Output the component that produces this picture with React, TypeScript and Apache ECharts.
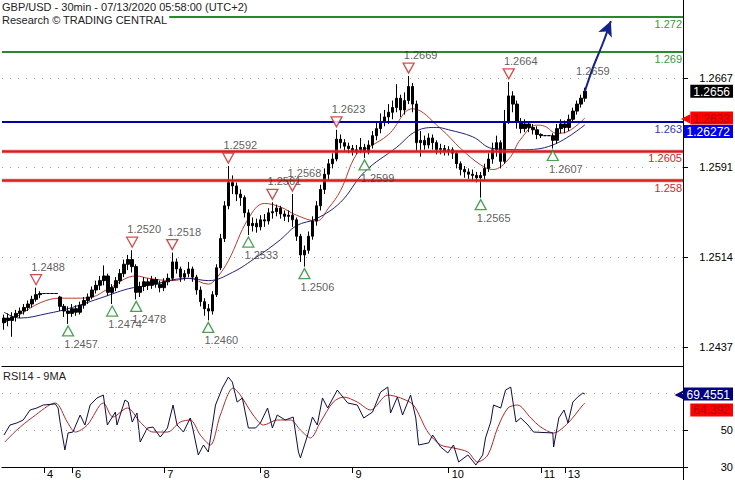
import React, { useEffect, useRef } from "react";
import * as echarts from "echarts";

// ---------- DATA ----------
// 30-min bars: [open, close, low, high]
const bars: number[][] = [
  [1.2458, 1.2462, 1.2452, 1.2465], [1.2462, 1.246, 1.2455, 1.2466], [1.246, 1.2463, 1.2446, 1.2467],
  [1.2463, 1.2466, 1.2459, 1.2469], [1.2466, 1.2468, 1.2462, 1.2471], [1.2468, 1.2471, 1.2465, 1.2474],
  [1.2471, 1.2474, 1.2468, 1.2477], [1.2474, 1.2478, 1.2471, 1.2481], [1.2478, 1.2482, 1.2476, 1.2488],
  [1.2482, 1.2483, 1.2479, 1.2485], [1.2483, 1.2483, 1.2483, 1.2483], [1.2483, 1.2483, 1.2483, 1.2483],
  [1.2483, 1.2483, 1.2483, 1.2483], [1.2483, 1.2483, 1.2483, 1.2483], [1.248, 1.2472, 1.2468, 1.2481],
  [1.2472, 1.2468, 1.2463, 1.2474], [1.2468, 1.2466, 1.2457, 1.2472], [1.2466, 1.247, 1.2463, 1.2474],
  [1.247, 1.2467, 1.2464, 1.2473], [1.2467, 1.2473, 1.2465, 1.2476], [1.2473, 1.2477, 1.247, 1.248],
  [1.2477, 1.248, 1.2474, 1.2483], [1.248, 1.2486, 1.2478, 1.2489], [1.2486, 1.249, 1.2483, 1.2494],
  [1.249, 1.2494, 1.2486, 1.2498], [1.2494, 1.2498, 1.249, 1.2507], [1.2498, 1.2484, 1.2481, 1.25],
  [1.2484, 1.2488, 1.2474, 1.2491], [1.2488, 1.2494, 1.2485, 1.2497], [1.2494, 1.25, 1.2491, 1.2504],
  [1.25, 1.2508, 1.2497, 1.2512], [1.2508, 1.2512, 1.2503, 1.2516], [1.2512, 1.2506, 1.2501, 1.252],
  [1.2506, 1.2484, 1.2478, 1.2508], [1.2484, 1.2489, 1.248, 1.2493], [1.2489, 1.2493, 1.2485, 1.2497],
  [1.2493, 1.249, 1.2486, 1.2496], [1.249, 1.2495, 1.2487, 1.2498], [1.2495, 1.2491, 1.2488, 1.2497],
  [1.2491, 1.2488, 1.2484, 1.2494], [1.2488, 1.2493, 1.2485, 1.2496], [1.2493, 1.2496, 1.249, 1.25],
  [1.2496, 1.251, 1.2494, 1.2518], [1.251, 1.2504, 1.25, 1.2513], [1.2504, 1.2497, 1.2493, 1.2506],
  [1.2497, 1.25, 1.2494, 1.2503], [1.25, 1.2504, 1.2497, 1.251], [1.2504, 1.2497, 1.2493, 1.2506],
  [1.2497, 1.2486, 1.2482, 1.2499], [1.2486, 1.2476, 1.2472, 1.2489], [1.2476, 1.247, 1.2464, 1.2479],
  [1.247, 1.2468, 1.246, 1.2474], [1.2468, 1.2482, 1.2465, 1.2485], [1.2482, 1.2505, 1.248, 1.2508],
  [1.2505, 1.253, 1.2503, 1.2534], [1.253, 1.2558, 1.2527, 1.2562], [1.2558, 1.2578, 1.2555, 1.2592],
  [1.2578, 1.2575, 1.2568, 1.2584], [1.2575, 1.2568, 1.2562, 1.2578], [1.2568, 1.2565, 1.2558, 1.2572],
  [1.2565, 1.2552, 1.2548, 1.2567], [1.2552, 1.2541, 1.2533, 1.2555], [1.2541, 1.2543, 1.2536, 1.2548],
  [1.2543, 1.254, 1.2535, 1.2547], [1.254, 1.2546, 1.2537, 1.255], [1.2546, 1.2545, 1.254, 1.2551],
  [1.2545, 1.2552, 1.2542, 1.2556], [1.2552, 1.2553, 1.2547, 1.2561], [1.2553, 1.2556, 1.2549, 1.2559],
  [1.2556, 1.2551, 1.2547, 1.2558], [1.2551, 1.2549, 1.2545, 1.2554], [1.2549, 1.255, 1.2544, 1.2554],
  [1.255, 1.2546, 1.254, 1.2568], [1.2546, 1.2532, 1.2528, 1.2548], [1.2532, 1.2516, 1.251, 1.2534],
  [1.2516, 1.252, 1.2506, 1.2524], [1.252, 1.2532, 1.2517, 1.2536], [1.2532, 1.2545, 1.2529, 1.2549],
  [1.2545, 1.2558, 1.2541, 1.2562], [1.2558, 1.2572, 1.2554, 1.2576], [1.2572, 1.2585, 1.2568, 1.259],
  [1.2585, 1.2594, 1.258, 1.2598], [1.2594, 1.2598, 1.259, 1.2603], [1.2598, 1.2615, 1.2596, 1.2623],
  [1.2615, 1.2612, 1.2607, 1.2619], [1.2612, 1.2609, 1.2605, 1.2615], [1.2609, 1.2607, 1.2603, 1.2612],
  [1.2607, 1.2605, 1.2601, 1.261], [1.2605, 1.2606, 1.2602, 1.261], [1.2606, 1.2608, 1.2603, 1.2616],
  [1.2608, 1.2604, 1.2599, 1.2611], [1.2604, 1.261, 1.2602, 1.2614], [1.261, 1.2618, 1.2607, 1.2622],
  [1.2618, 1.2624, 1.2614, 1.263], [1.2624, 1.263, 1.262, 1.2637], [1.263, 1.2634, 1.2626, 1.264],
  [1.2634, 1.2638, 1.2628, 1.2645], [1.2638, 1.2642, 1.2632, 1.2648], [1.2642, 1.265, 1.2638, 1.2662],
  [1.265, 1.264, 1.2634, 1.2653], [1.264, 1.2648, 1.2636, 1.2655], [1.2648, 1.266, 1.2645, 1.2669],
  [1.266, 1.2645, 1.2638, 1.2663], [1.2645, 1.2612, 1.2605, 1.2648], [1.2612, 1.2614, 1.26, 1.2622],
  [1.2614, 1.261, 1.2606, 1.2618], [1.261, 1.2616, 1.2607, 1.262], [1.2616, 1.2612, 1.2606, 1.2619],
  [1.2612, 1.2606, 1.2602, 1.2614], [1.2606, 1.2607, 1.2602, 1.2611], [1.2607, 1.2605, 1.2601, 1.261],
  [1.2605, 1.2606, 1.2601, 1.2609], [1.2606, 1.2603, 1.2598, 1.2608], [1.2603, 1.2594, 1.259, 1.2605],
  [1.2594, 1.2589, 1.2584, 1.2596], [1.2589, 1.2587, 1.2582, 1.2592], [1.2587, 1.2585, 1.2581, 1.259],
  [1.2585, 1.2584, 1.258, 1.2589], [1.2584, 1.2582, 1.2578, 1.2587], [1.2582, 1.2584, 1.2565, 1.2587],
  [1.2584, 1.259, 1.258, 1.2594], [1.259, 1.2598, 1.2587, 1.2603], [1.2598, 1.2606, 1.2594, 1.2612],
  [1.2606, 1.2612, 1.26, 1.2618], [1.2612, 1.2596, 1.259, 1.2614], [1.2596, 1.263, 1.2594, 1.264],
  [1.263, 1.2652, 1.2628, 1.2664], [1.2652, 1.2645, 1.2638, 1.2656], [1.2645, 1.263, 1.2624, 1.2648],
  [1.263, 1.2624, 1.262, 1.2633], [1.2624, 1.2628, 1.2621, 1.2632], [1.2628, 1.2625, 1.2621, 1.263],
  [1.2625, 1.2623, 1.2619, 1.2628], [1.2623, 1.2619, 1.2615, 1.2626], [1.2619, 1.2618, 1.2616, 1.262],
  [1.2618, 1.2618, 1.2618, 1.2618], [1.2618, 1.2618, 1.2618, 1.2618], [1.2618, 1.2614, 1.2607, 1.262],
  [1.2614, 1.2624, 1.2611, 1.2628], [1.2624, 1.2628, 1.262, 1.2632], [1.2628, 1.2625, 1.262, 1.2631],
  [1.2625, 1.2632, 1.2622, 1.2636], [1.2632, 1.2639, 1.2629, 1.2642], [1.2639, 1.2645, 1.2636, 1.2648],
  [1.2645, 1.265, 1.2642, 1.2653], [1.265, 1.2656, 1.2647, 1.2659],
];

// swing points [bar index, price]
const swingHighs: number[][] = [
  [8, 1.2488], [32, 1.252], [42, 1.2518], [56, 1.2592], [67, 1.2561], [72, 1.2568],
  [83, 1.2623], [101, 1.2669], [126, 1.2664],
];
const swingLows: number[][] = [
  [16, 1.2457], [27, 1.2474], [33, 1.2478], [51, 1.246], [61, 1.2533], [75, 1.2506],
  [90, 1.2599], [119, 1.2565], [137, 1.2607],
];
const lastHigh: number[] = [145, 1.2659];

// support / resistance levels
const resistLevels = [1.272, 1.269];
const pivotLevels = [1.263];
const supportLevels = [1.2605, 1.258];

// axis ticks
const priceTicks = [1.2437, 1.2514, 1.2591, 1.2667];
const rsiTicks = [30, 50];
const rsiGuides = [50, 70];
const dayLabels = ["4", "6", "7", "8", "9", "10", "11", "13"];
const dayIndex = [10, 17, 40, 64, 87, 111, 134, 140];

// moving averages [bar index, price]
const fastMA: number[][] = [
  [0, 1.2458], [4, 1.2465], [9, 1.2475], [14, 1.2479], [18, 1.2479], [22, 1.248], [26, 1.2487],
  [33, 1.2498], [36, 1.2496], [42, 1.2494], [46, 1.2496], [51, 1.2491], [53, 1.2496], [56, 1.2511],
  [61, 1.2547], [65, 1.256], [69, 1.2557], [73, 1.255], [78, 1.2545], [81, 1.2556], [84, 1.2571],
  [88, 1.2602], [91, 1.2608], [96, 1.2619], [102, 1.2641], [109, 1.2624], [114, 1.2607],
  [119, 1.2593], [122, 1.2589], [126, 1.2598], [129, 1.2615], [133, 1.2627], [135, 1.2626],
  [138, 1.262], [141, 1.2622], [145, 1.2633],
];
const slowMA: number[][] = [
  [0, 1.2467], [4, 1.2462], [11, 1.2466], [16, 1.247], [24, 1.2479], [31, 1.2487], [36, 1.249],
  [46, 1.2496], [51, 1.2494], [57, 1.2501], [63, 1.2514], [69, 1.2529], [73, 1.2541], [78, 1.2547],
  [84, 1.2561], [90, 1.2587], [98, 1.2608], [103, 1.2622], [108, 1.2625], [111, 1.2623],
  [117, 1.2617], [122, 1.2607], [129, 1.2606], [137, 1.261], [145, 1.26272],
];
const forecast: number[][] = [[145, 1.2656], [147, 1.2676], [149.5, 1.2697], [151.5, 1.2716]];

// RSI14 and its 9MA [bar index, value]
const rsi: number[][] = [
  [0, 47.3], [1.5, 52.7], [3.2, 53.8], [4.8, 55.4], [6.5, 60.8], [8.2, 61.9], [9.8, 63.5], [12.8, 64.1],
  [13.5, 61.9], [14, 54.3], [15.2, 39.2], [16, 48.4], [17.2, 48.9], [19, 58.1], [20.2, 52.7], [21.5, 63.5],
  [23.2, 67.3], [24.8, 68.9], [25.8, 52.7], [27.8, 59.7], [28.2, 52.7], [30.2, 66.2], [31, 65.1], [32, 54.3],
  [33.2, 59.2], [34, 43.5], [35.8, 51.1], [37.2, 51.6], [39, 46.2], [40.8, 51.1], [42.2, 63.5], [43.2, 52.7],
  [44.8, 48.9], [46.5, 56.5], [47.2, 50], [48.5, 36.5], [49.8, 41.9], [51, 38.1], [52.8, 63.5], [54.5, 72.7],
  [56, 78.6], [57, 75.9], [58.2, 65.1], [59.5, 67.3], [61, 51.1], [62.8, 51.1], [64, 53.8], [65.8, 61.9],
  [67, 51.1], [68.2, 58.1], [70.2, 55.4], [72.2, 57], [73.5, 38.1], [74, 34.9], [75.8, 47.3], [77, 57],
  [78.2, 52.7], [79.5, 67.3], [80.8, 61.9], [83.2, 71.6], [85.8, 64.6], [88.2, 63.5], [89.8, 56.5],
  [92, 59.7], [94, 70.5], [95.8, 73.2], [96.5, 59.2], [98.2, 67.8], [99.5, 58.1], [101.5, 68.9],
  [102.8, 56.5], [103.5, 41.9], [106, 43], [107, 47.3], [109, 40.8], [110.8, 37.6], [112.2, 41.9],
  [113.5, 32.7], [115.8, 36.5], [117.8, 31.1], [119.5, 36.5], [120.2, 45.7], [121.5, 54.3], [122.2, 63.5],
  [124, 61.9], [125.2, 71.6], [126.5, 73.2], [127.8, 54.3], [129, 56.5], [130.8, 52.7], [132.2, 48.9],
  [137, 48.4], [137.2, 40.8], [138.5, 56.5], [139.8, 60.8], [140.8, 53.8], [142, 65.1], [143.2, 67.8],
  [144.5, 70], [145, 69.4551],
];
const rsiMA: number[][] = [
  [0.2, 43.5], [3.2, 50], [7.2, 57], [12.8, 64.6], [15.8, 54.3], [17.8, 48.9], [20.8, 52.7], [24.8, 64.6],
  [27.2, 57], [30.8, 61.9], [34, 54.3], [37.2, 48.9], [40.8, 48.9], [44, 54.3], [46.5, 55.4], [49, 47.3],
  [51.5, 41.9], [54, 58.1], [57.2, 72.7], [59, 68.9], [62.2, 58.1], [64.8, 52.7], [68.2, 55.4],
  [71.5, 55.4], [74, 50], [76.5, 45.7], [79, 54.3], [82.2, 65.1], [84.8, 67.8], [88.2, 65.1], [91.5, 60.8],
  [95.8, 68.9], [99, 67.3], [102.2, 63.5], [105.8, 48.9], [109, 41.9], [112.2, 40.3], [115.8, 38.1],
  [118.2, 32.7], [120.8, 36.5], [123.2, 51.1], [125.8, 61.9], [128.2, 63.5], [131.5, 56.5], [134, 51.6],
  [137.2, 48.4], [140.8, 53.8], [144.5, 63.5], [145, 64.392],
];

const lastClose = 1.2656;
const fastLast = 1.2633;
const slowLast = 1.26272;
const rsiLast = 69.4551;
const rsiMALast = 64.392;

const SLOTS = 170;

// ---------- CHART ----------
const FONT = "'Liberation Sans', Arial, sans-serif";
const P_MIN = 1.2421;
const P_MAX = 1.2734;
const R_MIN = 30;
const R_MAX = 84.6;

export default function App() {
  const ref = useRef<HTMLDivElement>(null);

  useEffect(() => {
    if (!ref.current) return;
    const chart = echarts.init(ref.current, undefined, { renderer: "svg" });
    const categories = Array.from({ length: SLOTS }, (_, i) => String(i));
    const isDay = (idx: number) => dayIndex.indexOf(idx) >= 0;

    const flagAxis = (
      gridIndex: number,
      min: number,
      max: number,
      value: number,
      bg: string,
      fg: string,
      arrow: boolean,
      vAlign: string
    ) => ({
      type: "value",
      gridIndex,
      position: "right",
      min,
      max,
      axisLine: { show: false, onZero: false },
      axisTick: { show: false },
      splitLine: { show: false },
      axisLabel: {
        customValues: [value],
        margin: 50,
        align: "right",
        verticalAlign: vAlign,
        formatter: (v: number) => (arrow ? `{a|◀}{b|${String(v)}}` : `{b|${String(v)}}`),
        rich: {
          a: { color: bg, fontSize: 12, fontFamily: "DejaVu Sans", padding: [0, 0, 0, 0], lineHeight: 13 },
          b: {
            backgroundColor: bg,
            color: fg,
            fontSize: 12,
            fontFamily: FONT,
            padding: [1, 3, 0, 3],
            lineHeight: 13,
          },
        },
      },
    });

    const dotted = { type: [1, 7], color: "#a8a8a8", width: 1 };
    const levelItem = (v: number, color: string, width: number, labelColor: string) => ({
      yAxis: v,
      lineStyle: { type: "solid", color, width },
      label: {
        show: true,
        formatter: String(v),
        position: "insideEndBottom",
        distance: [1, 2],
        color: labelColor,
        fontSize: 11,
        fontFamily: FONT,
      },
    });
    const glowItem = (v: number) => ({
      yAxis: v,
      lineStyle: { type: "solid", color: "rgba(240,120,120,0.25)", width: 5 },
      label: { show: false },
    });

    const option: any = {
      animation: false,
      backgroundColor: "#ffffff",
      textStyle: { fontFamily: FONT },
      title: [
        {
          text: "GBP/USD - 30min - 07/13/2020 05:58:00 (UTC+2)",
          left: 2,
          top: 0,
          padding: [0, 2, 0, 0],
          backgroundColor: "#ffffff",
          textStyle: { fontSize: 11, fontWeight: "normal", color: "#222", fontFamily: FONT, lineHeight: 13 },
        },
        {
          text: "Research © TRADING CENTRAL",
          left: 2,
          top: 13,
          padding: [0, 2, 0, 0],
          backgroundColor: "#ffffff",
          textStyle: { fontSize: 11, fontWeight: "normal", color: "#222", fontFamily: FONT, lineHeight: 13 },
        },
        {
          text: "RSI14 - 9MA",
          left: 3,
          top: 369,
          padding: 0,
          textStyle: { fontSize: 11, fontWeight: "normal", color: "#222", fontFamily: FONT, lineHeight: 13 },
        },
      ],
      grid: [
        { left: 2, right: 52, top: 0, height: 366, outerBoundsMode: "none" },
        { left: 2, right: 52, top: 366, height: 101, outerBoundsMode: "none" },
      ],
      xAxis: [
        {
          type: "category",
          gridIndex: 0,
          data: categories,
          boundaryGap: true,
          axisLine: { show: true, onZero: false, lineStyle: { color: "#000", width: 1 } },
          axisTick: { show: false },
          axisLabel: { show: false },
          splitLine: { show: false },
        },
        { type: "value", gridIndex: 0, min: -0.5, max: SLOTS - 0.5, show: false },
        {
          type: "category",
          gridIndex: 1,
          data: categories,
          boundaryGap: true,
          axisLine: { show: true, onZero: false, lineStyle: { color: "#000", width: 1 } },
          axisTick: {
            show: true,
            alignWithLabel: true,
            interval: (idx: number) => isDay(idx),
            length: 6,
            lineStyle: { color: "#000" },
          },
          axisLabel: {
            show: true,
            interval: (idx: number) => isDay(idx),
            formatter: (_v: string, idx: number) => {
              const k = dayIndex.indexOf(idx);
              return k >= 0 ? dayLabels[k] : "";
            },
            align: "left",
            padding: [0, 0, 0, 3],
            margin: 1,
            color: "#000",
            fontSize: 11,
            fontFamily: FONT,
          },
          splitLine: { show: false },
        },
        { type: "value", gridIndex: 1, min: -0.5, max: SLOTS - 0.5, show: false },
      ],
      yAxis: [
        {
          type: "value",
          gridIndex: 0,
          position: "right",
          min: P_MIN,
          max: P_MAX,
          axisLine: { show: true, onZero: false, lineStyle: { color: "#000", width: 1 } },
          axisTick: { show: true, customValues: priceTicks, length: 5, lineStyle: { color: "#000" } },
          axisLabel: {
            customValues: priceTicks,
            formatter: (v: number) => String(v),
            margin: 50,
            align: "right",
            color: "#000",
            fontSize: 11,
            fontFamily: FONT,
          },
          splitLine: { show: false },
        },
        flagAxis(0, P_MIN, P_MAX, lastClose, "#000000", "#ffffff", false, "middle"),
        flagAxis(0, P_MIN, P_MAX, fastLast, "#ff0000", "#b00000", true, "middle"),
        flagAxis(0, P_MIN, P_MAX, slowLast, "#0000ee", "#ffffff", false, "top"),
        {
          type: "value",
          gridIndex: 1,
          position: "right",
          min: R_MIN,
          max: R_MAX,
          axisLine: { show: true, onZero: false, lineStyle: { color: "#000", width: 1 } },
          axisTick: { show: true, customValues: rsiTicks, length: 5, lineStyle: { color: "#000" } },
          axisLabel: {
            customValues: rsiTicks,
            showMinLabel: true,
            formatter: (v: number) => String(v),
            margin: 50,
            align: "right",
            color: "#000",
            fontSize: 11,
            fontFamily: FONT,
          },
          splitLine: { show: false },
        },
        flagAxis(1, R_MIN, R_MAX, rsiLast, "#000080", "#ffffff", true, "middle"),
        flagAxis(1, R_MIN, R_MAX, rsiMALast, "#ff0000", "#b00000", false, "top"),
      ],
      graphic: [
        {
          type: "line",
          shape: { x1: 683.5, y1: 467, x2: 683.5, y2: 480 },
          style: { stroke: "#000", lineWidth: 1 },
          silent: true,
        },
      ],
      series: [
        {
          type: "line",
          name: "fastMA",
          xAxisIndex: 1,
          yAxisIndex: 0,
          data: fastMA,
          smooth: 0.4,
          symbol: "none",
          lineStyle: { color: "#c0392b", width: 1 },
          z: 3,
        },
        {
          type: "line",
          name: "slowMA",
          xAxisIndex: 1,
          yAxisIndex: 0,
          data: slowMA,
          smooth: 0.4,
          symbol: "none",
          lineStyle: { color: "#202080", width: 1 },
          z: 3,
        },
        {
          type: "candlestick",
          xAxisIndex: 0,
          yAxisIndex: 0,
          data: bars,
          barWidth: 3,
          itemStyle: {
            color: "#000",
            color0: "#000",
            borderColor: "#000",
            borderColor0: "#000",
            borderWidth: 1,
          },
          z: 4,
          markLine: {
            silent: true,
            symbol: ["none", "none"],
            precision: 6,
            animation: false,
            data: [
              ...priceTicks.map((v) => ({ yAxis: v, lineStyle: dotted, label: { show: false } })),
              ...supportLevels.map((v) => glowItem(v)),
              ...resistLevels.map((v) => levelItem(v, "#2a8a2a", 2, "#3c9a3c")),
              ...pivotLevels.map((v) => levelItem(v, "#0000a8", 2, "#3535b5")),
              ...supportLevels.map((v) => levelItem(v, "#d61e1e", 2.5, "#cc2a2a")),
            ],
          },
        },
        {
          type: "line",
          name: "forecast",
          xAxisIndex: 1,
          yAxisIndex: 0,
          smooth: 0.3,
          symbol: "none",
          showSymbol: true,
          lineStyle: { color: "#14238a", width: 2 },
          itemStyle: { color: "#14238a" },
          data: forecast.map((p, i) =>
            i === forecast.length - 1
              ? { value: p, symbol: "arrow", symbolSize: [11, 15], symbolRotate: -23 }
              : { value: p }
          ),
          z: 6,
        },
        {
          type: "scatter",
          xAxisIndex: 1,
          yAxisIndex: 0,
          data: swingHighs,
          symbol: "path://M0,0L10,0L5,9Z",
          symbolSize: [11, 10],
          symbolOffset: [0, -8],
          itemStyle: { color: "#ffffff", borderColor: "#cc2020", borderWidth: 1.3 },
          z: 7,
        },
        {
          type: "scatter",
          xAxisIndex: 1,
          yAxisIndex: 0,
          data: swingLows,
          symbol: "triangle",
          symbolSize: [11, 10],
          symbolOffset: [0, 7],
          itemStyle: { color: "#ffffff", borderColor: "#1f8a2a", borderWidth: 1.3 },
          z: 7,
        },
        {
          type: "scatter",
          xAxisIndex: 1,
          yAxisIndex: 0,
          data: swingHighs,
          symbolSize: 1,
          itemStyle: { color: "transparent" },
          label: {
            show: true,
            position: "inside",
            offset: [12, -21],
            formatter: (p: any) => p.value[1].toFixed(4),
            color: "#333",
            fontSize: 11,
            fontFamily: FONT,
          },
          z: 8,
        },
        {
          type: "scatter",
          xAxisIndex: 1,
          yAxisIndex: 0,
          data: [lastHigh],
          symbolSize: 1,
          itemStyle: { color: "transparent" },
          label: {
            show: true,
            position: "inside",
            offset: [8, -17],
            formatter: (p: any) => p.value[1].toFixed(4),
            color: "#333",
            fontSize: 11,
            fontFamily: FONT,
          },
          z: 8,
        },
        {
          type: "scatter",
          xAxisIndex: 1,
          yAxisIndex: 0,
          data: swingLows,
          symbolSize: 1,
          itemStyle: { color: "transparent" },
          label: {
            show: true,
            position: "inside",
            offset: [13, 20],
            formatter: (p: any) => p.value[1].toFixed(4),
            color: "#333",
            fontSize: 11,
            fontFamily: FONT,
          },
          z: 8,
        },
        {
          type: "line",
          name: "RSI",
          xAxisIndex: 3,
          yAxisIndex: 4,
          data: rsi,
          symbol: "none",
          lineStyle: { color: "#0d0d45", width: 1 },
          z: 4,
          markLine: {
            silent: true,
            symbol: ["none", "none"],
            precision: 4,
            data: rsiGuides.map((v) => ({ yAxis: v, lineStyle: dotted, label: { show: false } })),
          },
        },
        {
          type: "line",
          name: "RSI MA",
          xAxisIndex: 3,
          yAxisIndex: 4,
          data: rsiMA,
          smooth: 0.3,
          symbol: "none",
          lineStyle: { color: "#b02828", width: 1 },
          z: 3,
        },
      ],
    };

    chart.setOption(option);
    return () => chart.dispose();
  }, []);

  return (
    <div
      ref={ref}
      style={{ position: "fixed", left: 0, top: 0, width: 735, height: 480, background: "#fff" }}
    />
  );
}
